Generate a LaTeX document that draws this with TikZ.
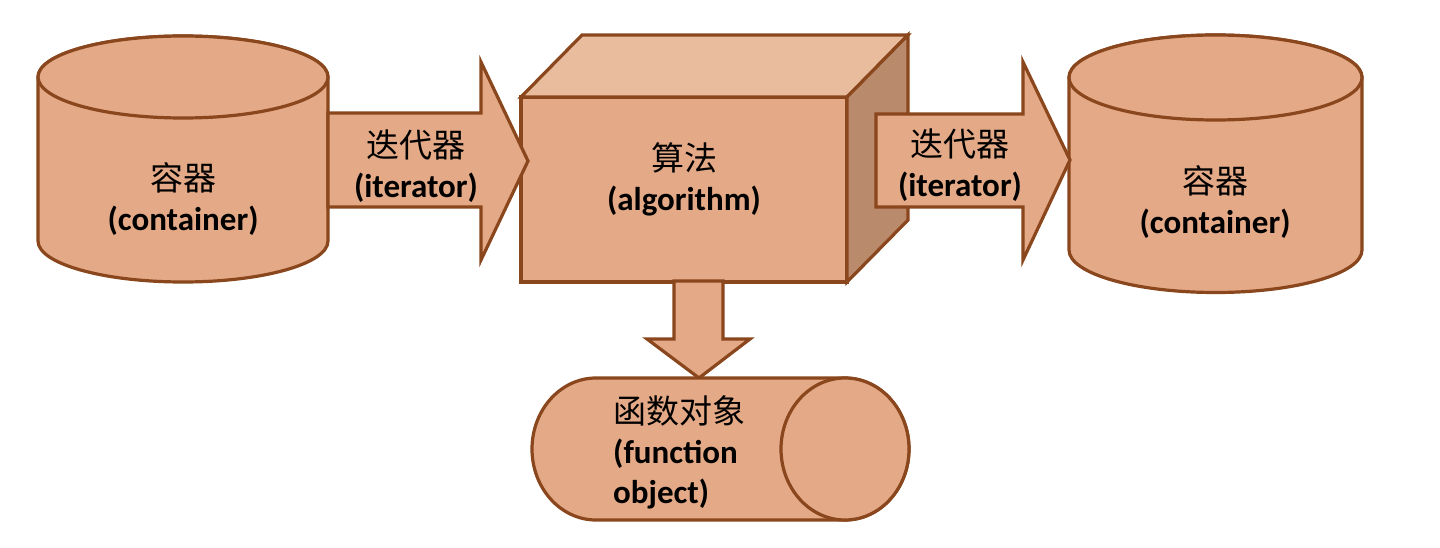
\documentclass[tikz,border=0pt]{standalone}
\usepackage{fontspec}
\setmainfont{Carlito}
\newfontfamily\cjk{Noto Sans CJK SC}
\definecolor{fillc}{RGB}{228,169,134}
\definecolor{topc}{RGB}{233,188,158}
\definecolor{sidec}{RGB}{186,138,108}
\definecolor{edgec}{RGB}{138,70,28}
\tikzset{
  shp/.style={draw=edgec, line width=3.2pt, line join=miter, fill=fillc},
  lbl/.style={align=center, font=\fontsize{33}{40}\selectfont, inner sep=0pt}
}
\begin{document}
\begin{tikzpicture}[x=1pt,y=1pt]
\useasboundingbox (0,0) rectangle (1440,547);
% left cylinder
\draw[shp] (38,470) -- (38,306) arc(180:360:145 and 41) -- (328,470) arc(0:180:145 and 41) -- cycle;
\draw[shp] (183,470) ellipse (145 and 41);
\node[lbl] (c1) at (183,348) {{\cjk 容器}\\{\bfseries (container)}};
% right cylinder
\draw[shp] (1069,469.5) -- (1069,297) arc(180:360:146.5 and 42.5) -- (1362,469.5) arc(0:180:146.5 and 42.5) -- cycle;
\draw[shp] (1215.5,469.5) ellipse (146.5 and 42.5);
\node[lbl] (c2) at (1215,345) {{\cjk 容器}\\{\bfseries (container)}};
% box
\draw[shp] (521,450) rectangle (847,265);
\draw[shp, fill=topc] (521,450) -- (582,512) -- (908,512) -- (847,450) -- cycle;
\draw[shp, fill=sidec] (847,450) -- (908,512) -- (908,327) -- (847,265) -- cycle;
\node[lbl] (alg) at (684,368) {{\cjk 算法}\\{\bfseries (algorithm)}};
% arrow 1
\draw[shp] (328,434) -- (481,434) -- (481,485) -- (528,386) -- (481,287) -- (481,340) -- (328,340) -- cycle;
\node[lbl] (it1) at (416,381) {{\cjk 迭代器}\\{\bfseries (iterator)}};
% arrow 2
\draw[shp] (876,433) -- (1023,433) -- (1023,485) -- (1070,387) -- (1023,287) -- (1023,340) -- (876,340) -- cycle;
\node[lbl] (it2) at (960,382) {{\cjk 迭代器}\\{\bfseries (iterator)}};
% down arrow
\draw[shp] (674,266) -- (674,208) -- (647,208) -- (699,169) -- (750,208) -- (723,208) -- (723,266) -- cycle;
% horizontal cylinder
\draw[shp] (845,169) -- (596,169) arc(90:270:64 and 71) -- (845,27) arc(-90:90:64 and 71) -- cycle;
\draw[shp] (845,98) ellipse (64 and 71);
\node[lbl, align=left, anchor=west] (fo) at (613,95) {{\cjk 函数对象}\\{\bfseries (function}\\{\bfseries object)}};
\end{tikzpicture}
\end{document}
